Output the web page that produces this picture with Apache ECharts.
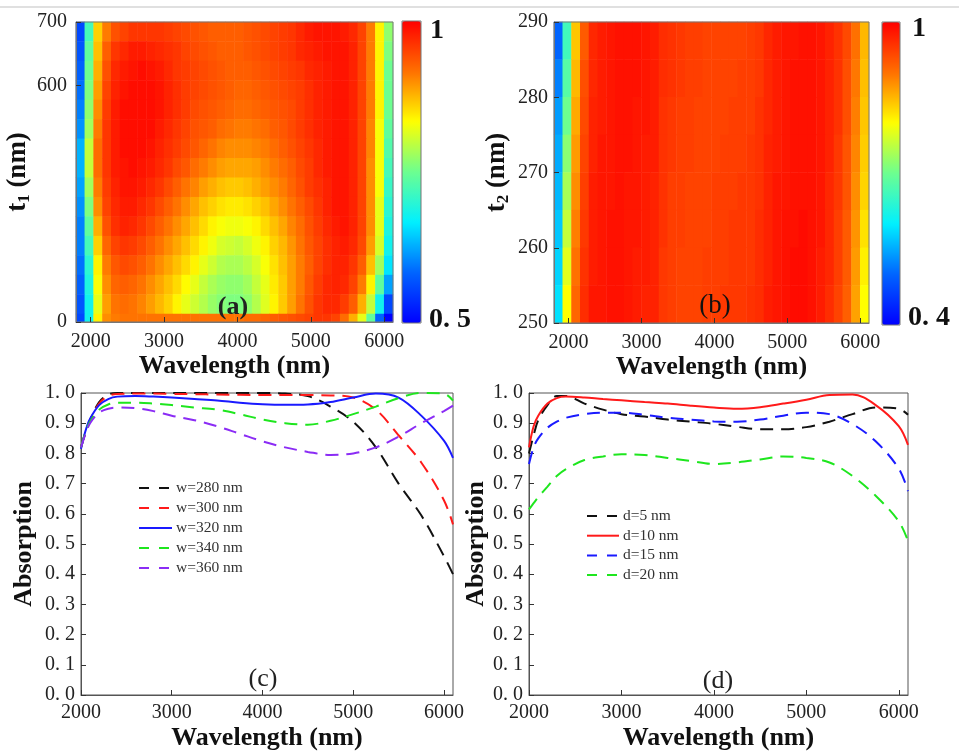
<!DOCTYPE html>
<html><head><meta charset="utf-8">
<script src="https://cdn.jsdelivr.net/npm/echarts@6/dist/echarts.min.js"></script>
<style>html,body{margin:0;padding:0;background:#fff}#c{width:959px;height:752px}</style>
</head><body><div id="c"></div>
<script>
const FONT = 'Liberation Serif';

// ---------- heat map (a): t1 vs wavelength ----------
const heatWavelengths = [1860,1980,2100,2220,2340,2460,2580,2700,2820,2940,3060,3180,3300,3420,3540,3660,3780,3900,4020,4140,4260,4380,4500,4620,4740,4860,4980,5100,5220,5340,5460,5580,5700,5820,5940,6060];
const t1Rows = [255,286,317,347,378,409,439,470,501,531,562,593,623,654,685];   // bottom -> top
const t1Strip = [0];
const xTickValues = [2000,3000,4000,5000,6000];
const t1TickValues = [227,600,700];
const t1TickText = ['0','600','700'];
// rows listed from top (t1 = 700) to bottom
const absorbA = [
[0.56,0.72,0.86,0.91,0.94,0.95,0.96,0.96,0.96,0.96,0.955,0.95,0.945,0.94,0.935,0.93,0.93,0.93,0.93,0.935,0.94,0.945,0.95,0.955,0.96,0.97,0.98,0.985,0.985,0.985,0.98,0.97,0.95,0.91,0.84,0.77],
[0.57,0.74,0.87,0.93,0.96,0.97,0.98,0.98,0.975,0.97,0.965,0.96,0.95,0.945,0.94,0.935,0.93,0.93,0.93,0.935,0.94,0.945,0.95,0.955,0.96,0.97,0.975,0.98,0.985,0.985,0.985,0.975,0.95,0.91,0.84,0.76],
[0.58,0.75,0.88,0.94,0.97,0.98,0.985,0.99,0.985,0.98,0.97,0.96,0.955,0.95,0.945,0.94,0.935,0.93,0.93,0.93,0.935,0.94,0.945,0.95,0.955,0.96,0.97,0.975,0.98,0.985,0.985,0.975,0.95,0.91,0.84,0.75],
[0.59,0.76,0.89,0.95,0.975,0.985,0.99,0.99,0.99,0.985,0.975,0.965,0.955,0.95,0.945,0.94,0.935,0.93,0.925,0.925,0.93,0.935,0.94,0.945,0.95,0.955,0.965,0.975,0.98,0.985,0.985,0.975,0.95,0.91,0.84,0.75],
[0.60,0.77,0.90,0.955,0.98,0.99,0.99,0.99,0.99,0.985,0.975,0.965,0.955,0.945,0.94,0.935,0.93,0.925,0.92,0.92,0.925,0.93,0.935,0.94,0.945,0.955,0.965,0.975,0.98,0.985,0.985,0.975,0.95,0.91,0.84,0.75],
[0.61,0.78,0.91,0.96,0.98,0.99,0.99,0.99,0.99,0.98,0.97,0.96,0.95,0.94,0.935,0.93,0.92,0.915,0.91,0.91,0.915,0.92,0.93,0.935,0.945,0.955,0.965,0.975,0.98,0.985,0.985,0.975,0.95,0.905,0.83,0.74],
[0.63,0.80,0.92,0.96,0.98,0.99,0.99,0.99,0.985,0.975,0.965,0.955,0.945,0.935,0.925,0.915,0.905,0.90,0.90,0.90,0.905,0.91,0.92,0.93,0.94,0.95,0.96,0.97,0.98,0.985,0.985,0.975,0.95,0.905,0.83,0.73],
[0.63,0.80,0.92,0.96,0.98,0.985,0.99,0.985,0.98,0.97,0.96,0.945,0.935,0.92,0.91,0.90,0.89,0.885,0.885,0.885,0.89,0.90,0.91,0.92,0.93,0.945,0.955,0.97,0.98,0.985,0.985,0.975,0.95,0.90,0.83,0.72],
[0.62,0.78,0.91,0.955,0.975,0.985,0.985,0.98,0.97,0.96,0.945,0.93,0.915,0.905,0.89,0.88,0.87,0.865,0.865,0.87,0.88,0.89,0.90,0.91,0.925,0.94,0.955,0.965,0.975,0.985,0.985,0.975,0.95,0.90,0.83,0.71],
[0.61,0.76,0.90,0.95,0.97,0.98,0.98,0.97,0.96,0.945,0.93,0.915,0.90,0.885,0.87,0.86,0.85,0.845,0.845,0.85,0.86,0.87,0.885,0.90,0.915,0.93,0.945,0.96,0.975,0.985,0.985,0.975,0.95,0.90,0.82,0.70],
[0.60,0.74,0.88,0.94,0.965,0.975,0.97,0.96,0.945,0.93,0.915,0.90,0.885,0.87,0.855,0.84,0.83,0.825,0.825,0.83,0.84,0.855,0.87,0.885,0.905,0.92,0.94,0.955,0.97,0.98,0.985,0.975,0.95,0.90,0.82,0.69],
[0.60,0.72,0.86,0.925,0.95,0.96,0.955,0.945,0.93,0.915,0.90,0.885,0.87,0.855,0.84,0.825,0.81,0.805,0.80,0.81,0.825,0.84,0.86,0.875,0.895,0.915,0.935,0.95,0.965,0.975,0.98,0.97,0.945,0.89,0.81,0.68],
[0.59,0.70,0.84,0.91,0.935,0.945,0.94,0.93,0.915,0.90,0.885,0.87,0.855,0.84,0.82,0.805,0.79,0.785,0.785,0.795,0.81,0.83,0.85,0.87,0.89,0.91,0.93,0.95,0.965,0.975,0.975,0.96,0.93,0.87,0.78,0.66],
[0.58,0.69,0.83,0.90,0.925,0.93,0.925,0.915,0.90,0.885,0.87,0.855,0.835,0.82,0.80,0.785,0.775,0.77,0.77,0.78,0.80,0.82,0.845,0.865,0.89,0.91,0.935,0.955,0.97,0.975,0.97,0.95,0.91,0.84,0.74,0.62],
[0.57,0.68,0.82,0.89,0.915,0.92,0.915,0.905,0.89,0.875,0.86,0.84,0.82,0.805,0.79,0.775,0.765,0.76,0.76,0.77,0.79,0.815,0.84,0.865,0.89,0.915,0.94,0.96,0.97,0.97,0.955,0.93,0.88,0.80,0.68,0.56]
];
// t1 = 0 strip at the bottom
const absorbAStrip = [
[0.56,0.68,0.84,0.90,0.91,0.915,0.915,0.915,0.915,0.915,0.915,0.915,0.915,0.915,0.915,0.915,0.915,0.915,0.915,0.92,0.92,0.925,0.93,0.935,0.94,0.945,0.95,0.96,0.96,0.95,0.92,0.88,0.82,0.74,0.58,0.50]
];

// ---------- heat map (b): t2 vs wavelength ----------
const t2Rows = [252.5,257.5,262.5,267.5,272.5,277.5,282.5,287.5];   // bottom -> top
// rows listed from top (t2 = 290) to bottom
const absorbB = [
[0.50,0.66,0.84,0.92,0.965,0.975,0.98,0.985,0.985,0.985,0.98,0.975,0.96,0.955,0.95,0.945,0.945,0.94,0.94,0.94,0.94,0.94,0.945,0.95,0.965,0.975,0.98,0.98,0.985,0.985,0.98,0.97,0.955,0.935,0.90,0.85],
[0.52,0.68,0.85,0.93,0.965,0.975,0.98,0.985,0.985,0.985,0.98,0.975,0.96,0.955,0.95,0.945,0.945,0.94,0.94,0.94,0.94,0.945,0.945,0.95,0.965,0.975,0.98,0.985,0.985,0.985,0.98,0.97,0.955,0.93,0.895,0.845],
[0.54,0.70,0.86,0.935,0.97,0.975,0.98,0.985,0.985,0.98,0.98,0.975,0.955,0.95,0.945,0.945,0.94,0.94,0.94,0.94,0.945,0.945,0.945,0.955,0.965,0.975,0.98,0.985,0.985,0.985,0.98,0.97,0.955,0.93,0.89,0.84],
[0.55,0.72,0.87,0.94,0.97,0.98,0.98,0.985,0.985,0.98,0.975,0.975,0.955,0.95,0.945,0.945,0.94,0.94,0.94,0.945,0.945,0.945,0.95,0.955,0.97,0.975,0.98,0.985,0.985,0.985,0.98,0.97,0.95,0.925,0.885,0.835],
[0.56,0.74,0.88,0.945,0.975,0.98,0.98,0.985,0.98,0.98,0.975,0.97,0.955,0.945,0.945,0.94,0.94,0.94,0.945,0.945,0.945,0.95,0.95,0.955,0.97,0.98,0.98,0.985,0.985,0.985,0.98,0.965,0.95,0.925,0.88,0.83],
[0.57,0.76,0.89,0.95,0.975,0.98,0.985,0.985,0.98,0.98,0.975,0.97,0.955,0.945,0.945,0.94,0.94,0.94,0.945,0.945,0.95,0.95,0.95,0.96,0.97,0.98,0.985,0.985,0.99,0.985,0.98,0.965,0.945,0.92,0.875,0.82],
[0.58,0.78,0.90,0.955,0.975,0.98,0.985,0.985,0.98,0.975,0.975,0.97,0.95,0.945,0.94,0.94,0.94,0.945,0.945,0.945,0.95,0.95,0.95,0.96,0.97,0.98,0.985,0.99,0.99,0.985,0.975,0.965,0.945,0.92,0.87,0.81],
[0.59,0.80,0.91,0.96,0.98,0.98,0.985,0.985,0.98,0.975,0.97,0.97,0.95,0.945,0.94,0.94,0.94,0.945,0.945,0.95,0.95,0.95,0.955,0.96,0.975,0.98,0.985,0.99,0.99,0.985,0.975,0.96,0.94,0.915,0.865,0.80]
];

// ---------- line charts (c) and (d) ----------
const lineWavelengths = [2000,2050,2100,2200,2300,2400,2600,2800,3000,3250,3500,3750,4000,4250,4500,4750,5000,5250,5500,5750,6000,6100];
const cNames = ['w=280 nm','w=300 nm','w=320 nm','w=340 nm','w=360 nm'];
const w280 = [0.82,0.87,0.91,0.97,0.995,1.0,1.0,1.0,1.0,1.0,1.0,1.0,1.0,0.998,0.99,0.955,0.905,0.82,0.70,0.595,0.46,0.40];
const w300 = [0.82,0.87,0.91,0.965,0.99,0.997,0.998,0.998,0.997,0.996,0.995,0.994,0.993,0.993,0.993,0.992,0.985,0.945,0.86,0.77,0.645,0.565];
const w320 = [0.815,0.875,0.915,0.96,0.98,0.988,0.99,0.988,0.985,0.98,0.975,0.968,0.963,0.961,0.962,0.97,0.985,0.998,0.985,0.925,0.842,0.785];
const w340 = [0.82,0.87,0.905,0.945,0.962,0.968,0.968,0.965,0.96,0.952,0.945,0.93,0.912,0.90,0.895,0.908,0.93,0.955,0.983,1.0,0.998,0.975];
const w360 = [0.82,0.865,0.90,0.935,0.948,0.952,0.95,0.94,0.925,0.91,0.89,0.865,0.84,0.82,0.805,0.795,0.80,0.82,0.855,0.90,0.94,0.958];
const dNames = ['d=5 nm','d=10 nm','d=15 nm','d=20 nm'];
const d5  = [0.80,0.86,0.91,0.96,0.99,0.99,0.965,0.945,0.93,0.922,0.912,0.905,0.898,0.888,0.88,0.88,0.887,0.905,0.93,0.952,0.948,0.928];
const d10 = [0.82,0.89,0.925,0.965,0.983,0.988,0.985,0.98,0.976,0.97,0.965,0.958,0.952,0.948,0.953,0.965,0.978,0.993,0.995,0.96,0.89,0.828];
const d15 = [0.765,0.82,0.85,0.885,0.905,0.918,0.93,0.935,0.935,0.928,0.918,0.912,0.906,0.905,0.912,0.925,0.935,0.93,0.897,0.84,0.75,0.675];
const d20 = [0.615,0.635,0.655,0.69,0.725,0.748,0.778,0.79,0.797,0.795,0.785,0.775,0.765,0.77,0.78,0.79,0.785,0.77,0.725,0.66,0.575,0.51];

// ---------- helpers ----------
const JET = ['#0000ff','#0064ff','#00f0ff','#6cff90','#ffff00','#ff7000','#ff0000'];
function cells(rowsTopDown){
  const n = rowsTopDown.length, out = [];
  rowsTopDown.forEach((row,i)=>row.forEach((v,j)=>out.push([j, n-1-i, v])));
  return out;
}
function pairs(ys){ return lineWavelengths.map((x,i)=>[x, ys[i]]); }
const tickLabel = {fontFamily: FONT, fontSize: 20, color: '#222'};
const titleStyle = {fontFamily: FONT, fontWeight: 'bold', fontSize: 26, color: '#111'};
const fmt1 = v => v.toFixed(1).replace('.', '. ');
const fmtInt = v => String(v);

function frameX(gi){
  return {gridIndex: gi, type: 'value', min: 1800, max: 6120, z: 10,
    axisLine: {show: true, lineStyle: {color: '#777'}},
    axisTick: {show: true, inside: true, length: 5, customValues: xTickValues, lineStyle: {color: '#333'}},
    axisLabel: Object.assign({customValues: xTickValues, margin: 10, formatter: fmtInt}, tickLabel),
    splitLine: {show: false},
    name: 'Wavelength (nm)', nameLocation: 'middle', nameGap: 26, nameTextStyle: titleStyle};
}
function lineX(gi){
  return {gridIndex: gi, type: 'value', min: 2000, max: 6100, interval: 1000,
    axisLine: {show: true, lineStyle: {color: '#555'}},
    axisTick: {show: true, inside: true, length: 5, lineStyle: {color: '#333'}},
    axisLabel: Object.assign({margin: 8, showMaxLabel: false, formatter: fmtInt}, tickLabel),
    splitLine: {show: false},
    name: 'Wavelength (nm)', nameLocation: 'middle', nameGap: 30, nameTextStyle: titleStyle};
}
function lineY(gi, gap){
  return {gridIndex: gi, type: 'value', min: 0, max: 1, interval: 0.1,
    axisLine: {show: true, lineStyle: {color: '#555'}},
    axisTick: {show: true, inside: true, length: 5, lineStyle: {color: '#333'}},
    axisLabel: Object.assign({margin: 6, formatter: fmt1}, tickLabel),
    splitLine: {show: false},
    name: 'Absorption', nameLocation: 'middle', nameGap: gap, nameTextStyle: titleStyle};
}
const hidden = (gi, data) => ({gridIndex: gi, type: 'category', data: data, show: false});
const tName = sub => ({
  name: '{a|t}{s|' + sub + '}{a| (nm)}', nameLocation: 'middle',
  nameTextStyle: {rich: {
    a: {fontFamily: FONT, fontWeight: 'bold', fontSize: 27, color: '#111', lineHeight: 30},
    s: {fontFamily: FONT, fontWeight: 'bold', fontSize: 17, color: '#111', lineHeight: 30, verticalAlign: 'bottom', padding: [12,0,0,0]}
  }}
});

const dash = [13, 8];
function lineSeries(name, ys, color, gi, type){
  return {type: 'line', name: name, xAxisIndex: gi, yAxisIndex: gi, data: pairs(ys),
    smooth: 0.35, symbol: 'none', clip: true,
    lineStyle: {color: color, width: 2, type: type}, itemStyle: {color: color},
    emphasis: {disabled: true}};
}
const cColors = ['#111111','#ff1a1a','#1a1aff','#1ee61e','#8b2cf5'];
const cTypes = [dash, dash, 'solid', dash, dash];
const dColors = ['#111111','#ff1a1a','#1a1aff','#1ee61e'];
const dTypes = [dash, 'solid', dash, dash];
const legendItems = (names, colors, types) => names.map((n, i) => ({
  name: n, itemStyle: {opacity: 0},
  lineStyle: {color: colors[i], width: 2, type: types[i] === 'solid' ? 'solid' : [10, 10], opacity: 1}
}));
const legendText = {fontFamily: FONT, fontSize: 15.5, color: '#333', padding: [0,0,0,-1]};

const option = {
  animation: false,
  backgroundColor: '#fff',
  grid: [
    {left: 76, top: 22, width: 317, height: 300, show: true, borderColor: '#777', borderWidth: 1, backgroundColor: 'transparent', z: 10},
    {left: 76, top: 22, width: 317, height: 292},
    {left: 76, top: 314, width: 317, height: 8},
    {left: 554, top: 22, width: 315, height: 301, show: true, borderColor: '#777', borderWidth: 1, backgroundColor: 'transparent', z: 10},
    {left: 554, top: 22, width: 315, height: 301},
    {left: 81, top: 393, width: 372, height: 306, show: true, borderColor: '#555', borderWidth: 1},
    {left: 529, top: 393, width: 379, height: 309, show: true, borderColor: '#555', borderWidth: 1}
  ],
  xAxis: [
    frameX(0), hidden(1, heatWavelengths), hidden(2, heatWavelengths),
    frameX(3), hidden(4, heatWavelengths),
    lineX(5), lineX(6)
  ],
  yAxis: [
    Object.assign({gridIndex: 0, type: 'value', min: 227, max: 700, z: 10,
      axisLine: {show: true, lineStyle: {color: '#777'}},
      axisTick: {show: true, inside: true, length: 5, customValues: t1TickValues, lineStyle: {color: '#333'}},
      axisLabel: Object.assign({customValues: t1TickValues, margin: 9,
        formatter: v => t1TickText[t1TickValues.indexOf(v)]}, tickLabel),
      splitLine: {show: false}, nameGap: 43}, tName('1')),
    hidden(1, t1Rows), hidden(2, t1Strip),
    Object.assign({gridIndex: 3, type: 'value', min: 250, max: 290, interval: 10, z: 10,
      axisLine: {show: true, lineStyle: {color: '#777'}},
      axisTick: {show: true, inside: true, length: 5, lineStyle: {color: '#333'}},
      axisLabel: Object.assign({margin: 6}, tickLabel),
      splitLine: {show: false}, nameGap: 42}, tName('2')),
    hidden(4, t2Rows),
    lineY(5, 44), lineY(6, 38)
  ],
  visualMap: [
    {type: 'continuous', seriesIndex: [0, 1], min: 0.5, max: 1, calculable: false, hoverLink: false,
     left: 402, top: 21, itemWidth: 19, itemHeight: 302, padding: 0, inRange: {color: JET}},
    {type: 'continuous', seriesIndex: [2], min: 0.4, max: 1, calculable: false, hoverLink: false,
     left: 882, top: 22, itemWidth: 18, itemHeight: 303, padding: 0, inRange: {color: JET}}
  ],
  legend: [
    {data: legendItems(cNames, cColors, cTypes), left: 138, top: 480, orient: 'vertical', padding: 0,
     itemWidth: 33, itemHeight: 14, itemGap: 4, itemStyle: {opacity: 0}, textStyle: legendText},
    {data: legendItems(dNames, dColors, dTypes), left: 586, top: 508, orient: 'vertical', padding: 0,
     itemWidth: 32, itemHeight: 14, itemGap: 3.7, itemStyle: {opacity: 0}, textStyle: legendText}
  ],
  series: [
    {type: 'heatmap', xAxisIndex: 1, yAxisIndex: 1, data: cells(absorbA), itemStyle: {borderWidth: 0}, emphasis: {disabled: true}},
    {type: 'heatmap', xAxisIndex: 2, yAxisIndex: 2, data: cells(absorbAStrip), itemStyle: {borderWidth: 0}, emphasis: {disabled: true}},
    {type: 'heatmap', xAxisIndex: 4, yAxisIndex: 4, data: cells(absorbB), itemStyle: {borderWidth: 0}, emphasis: {disabled: true}},
    lineSeries(cNames[0], w280, cColors[0], 5, cTypes[0]),
    lineSeries(cNames[1], w300, cColors[1], 5, cTypes[1]),
    lineSeries(cNames[2], w320, cColors[2], 5, cTypes[2]),
    lineSeries(cNames[3], w340, cColors[3], 5, cTypes[3]),
    lineSeries(cNames[4], w360, cColors[4], 5, cTypes[4]),
    lineSeries(dNames[0], d5, dColors[0], 6, dTypes[0]),
    lineSeries(dNames[1], d10, dColors[1], 6, dTypes[1]),
    lineSeries(dNames[2], d15, dColors[2], 6, dTypes[2]),
    lineSeries(dNames[3], d20, dColors[3], 6, dTypes[3])
  ],
  graphic: [
    {type: 'line', shape: {x1: 0, y1: 7, x2: 959, y2: 7}, style: {stroke: '#d6d6d6', lineWidth: 1.5}},
    {type: 'rect', shape: {x: 402, y: 21, width: 19, height: 302}, style: {fill: 'none', stroke: '#777', lineWidth: 1}, z: 50},
    {type: 'rect', shape: {x: 882, y: 22, width: 18, height: 303}, style: {fill: 'none', stroke: '#777', lineWidth: 1}, z: 50},
    {type: 'text', x: 430, y: 31, style: {text: '1', font: 'bold 28px "Liberation Serif"', fill: '#111', align: 'left', verticalAlign: 'middle'}, z: 50},
    {type: 'text', x: 429, y: 320, style: {text: '0. 5', font: 'bold 28px "Liberation Serif"', fill: '#111', align: 'left', verticalAlign: 'middle'}, z: 50},
    {type: 'text', x: 912, y: 29, style: {text: '1', font: 'bold 28px "Liberation Serif"', fill: '#111', align: 'left', verticalAlign: 'middle'}, z: 50},
    {type: 'text', x: 908, y: 318, style: {text: '0. 4', font: 'bold 28px "Liberation Serif"', fill: '#111', align: 'left', verticalAlign: 'middle'}, z: 50},
    {type: 'text', x: 233, y: 307, style: {text: '(a)', font: 'bold 26px "Liberation Serif"', fill: '#222', align: 'center', verticalAlign: 'middle'}, z: 50},
    {type: 'text', x: 715, y: 306, style: {text: '(b)', font: '27px "Liberation Serif"', fill: '#111', align: 'center', verticalAlign: 'middle'}, z: 50},
    {type: 'text', x: 263, y: 679, style: {text: '(c)', font: '26px "Liberation Serif"', fill: '#222', align: 'center', verticalAlign: 'middle'}, z: 50},
    {type: 'text', x: 718, y: 681, style: {text: '(d)', font: '26px "Liberation Serif"', fill: '#222', align: 'center', verticalAlign: 'middle'}, z: 50}
  ]
};
const chart = echarts.init(document.getElementById('c'), null, {renderer: 'canvas'});
chart.setOption(option);
</script></body></html>
